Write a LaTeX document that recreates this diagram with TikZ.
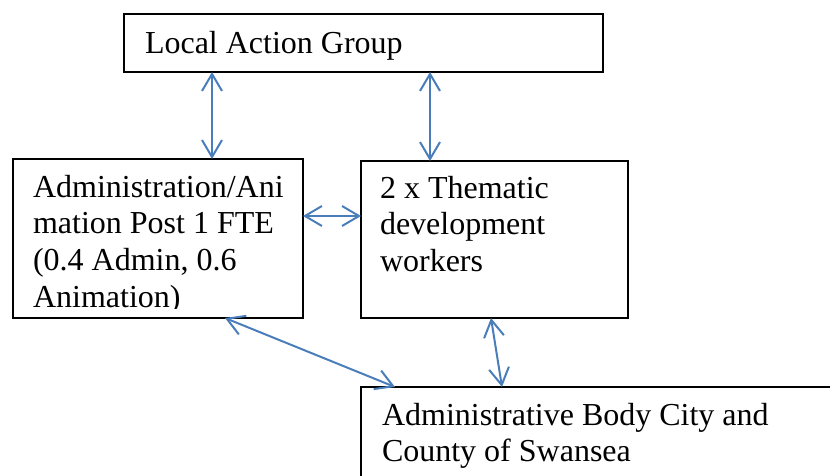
\documentclass[tikz,border=0pt]{standalone}
\usepackage{fontspec}
\setmainfont{Liberation Serif}
\usetikzlibrary{arrows.meta}
\definecolor{arrowblue}{RGB}{74,126,187}
\tikzset{
  box/.style={draw=black, line width=2pt, fill=white, inner sep=0pt, outer sep=0pt, anchor=north west},
  txt/.style={inner sep=0pt, outer sep=0pt, anchor=base west, font=\fontsize{32}{36.8}\selectfont},
  arr/.style={draw=arrowblue, line width=2pt, {Straight Barb[length=17pt,width=20pt]}-{Straight Barb[length=17pt,width=20pt]}}
}
\begin{document}
\begin{tikzpicture}[x=1pt,y=-1pt]
\useasboundingbox (0,0) rectangle (830,476);
\clip (0,0) rectangle (830,476);
\fill[white] (0,0) rectangle (830,476);
% boxes
\node[box, minimum width=479pt, minimum height=58pt] (lag) at (124,14) {};
\node[box, minimum width=290pt, minimum height=159pt] (admin) at (13,159) {};
\node[box, minimum width=267pt, minimum height=157pt] (them) at (361,161) {};
\node[box, minimum width=520pt, minimum height=150pt] (body) at (361,387) {};
% texts
\node[txt] (lagt) at (145,54) {Local Action Group};
\begin{scope}
\clip (14,160) rectangle (302,308.5);
\node[txt] (ad1) at (33,197) {Administration/Ani};
\node[txt] (ad2) at (33,233.8) {mation Post 1 FTE};
\node[txt] (ad3) at (33,270.6) {(0.4 Admin, 0.6};
\node[txt] (ad4) at (33,307.4) {Animation)};
\end{scope}
\node[txt] (th1) at (380,198) {2 x Thematic};
\node[txt] (th2) at (380,234.8) {development};
\node[txt] (th3) at (380,271.6) {workers};
\node[txt] (bo1) at (382,425) {Administrative Body City and};
\node[txt] (bo2) at (382,461.8) {County of Swansea};
% connectors
\draw[arr] ([xshift=88pt]lag.south west) -- ([xshift=199pt]admin.north west);
\draw[arr] ([xshift=306pt]lag.south west) -- ([xshift=69pt]them.north west);
\draw[arr] ([yshift=22.5pt]admin.east) -- ([yshift=22.5pt]admin.east -| them.west);
\draw[arr] ([xshift=212pt]admin.south west) -- ([xshift=34pt]body.north west);
\draw[arr] ([xshift=130pt]them.south west) -- ([xshift=141pt]body.north west);
\end{tikzpicture}
\end{document}
